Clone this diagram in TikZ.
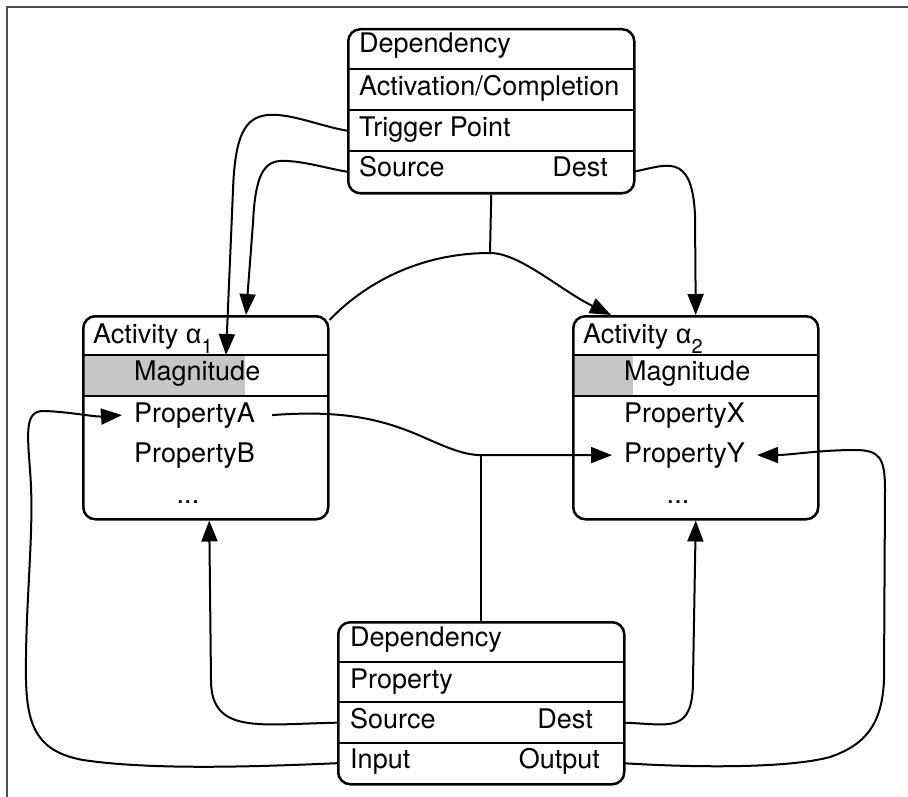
\documentclass[tikz,border=0pt]{standalone}
\usepackage{fontspec}
\setmainfont{TeX Gyre Heros}
\newfontfamily\grk{Liberation Sans}
\usetikzlibrary{arrows.meta}
\definecolor{magfill}{RGB}{198,198,198}

\begin{document}
\begin{tikzpicture}[x=1pt,y=-1pt,
  box/.style={draw, line width=2.5pt, rounded corners=12pt, inner sep=0pt, anchor=north west},
  rowarea/.style={inner sep=0pt, anchor=north west},
  sep/.style={line width=2.5pt},
  lbl/.style={anchor=base west, inner xsep=0pt, inner ysep=0pt, font=\fontsize{27}{32}\selectfont},
  lble/.style={lbl, anchor=base east},
  plbl/.style={lbl, inner xsep=12pt},
  conn/.style={line width=2pt},
  arr/.style={conn, -{Triangle[length=21pt,width=16pt]}},
  frame/.style={line width=1.5pt, black!70}
]
\useasboundingbox (0,0) rectangle (908,797);
\draw[frame] (7,797) -- (7,7) -- (908,7);

% ---------- upper dependency box ----------
\node[box, minimum width=286pt, minimum height=164pt] (top) at (347,28) {};
\node[rowarea, minimum width=286pt, minimum height=41pt] (tact)  at (347,69) {};
\node[rowarea, minimum width=286pt, minimum height=41pt] (ttrig) at (347,110) {};
\node[rowarea, minimum width=286pt, minimum height=41pt] (tsrc)  at (347,151) {};
\foreach \r in {tact,ttrig,tsrc} \draw[sep] (\r.north west) -- (\r.north east);
\node[lbl] (tl1) at (359,53)  {Dependency};
\node[lbl] (tl2) at (359,96)  {Activation/Completion};
\node[lbl] (tl3) at (359,137) {Trigger Point};
\node[lbl] (tl4) at (359,177) {Source};
\node[lble] (tl5) at (608,177) {Dest};

% ---------- activity 1 ----------
\fill[magfill] (82,355) rectangle (245,396);
\node[box, minimum width=245pt, minimum height=203pt] (a1) at (82,315) {};
\node[rowarea, minimum width=245pt, minimum height=41pt] (a1mag)  at (82,355) {};
\node[rowarea, minimum width=245pt, minimum height=122pt] (a1prop) at (82,396) {};
\foreach \r in {a1mag,a1prop} \draw[sep] (\r.north west) -- (\r.north east);
\node[lbl] (a1t) at (93,343) {Activity {\grk α}\raisebox{-10pt}{\fontsize{20}{20}\selectfont 1}};
\node[lbl] (a1m) at (134,380) {Magnitude};
\node[plbl] (pa) at (122,422) {PropertyA};
\node[lbl] (pb) at (134,462) {PropertyB};
\node[lbl, anchor=base] (a1d) at (188,503) {...};

% ---------- activity 2 ----------
\fill[magfill] (572,355) rectangle (633,396);
\node[box, minimum width=245pt, minimum height=203pt] (a2) at (572,315) {};
\node[rowarea, minimum width=245pt, minimum height=41pt] (a2mag)  at (572,355) {};
\node[rowarea, minimum width=245pt, minimum height=122pt] (a2prop) at (572,396) {};
\foreach \r in {a2mag,a2prop} \draw[sep] (\r.north west) -- (\r.north east);
\node[lbl] (a2t) at (583,343) {Activity {\grk α}\raisebox{-10pt}{\fontsize{20}{20}\selectfont 2}};
\node[lbl] (a2m) at (624,380) {Magnitude};
\node[lbl] (px) at (624,422) {PropertyX};
\node[plbl] (py) at (612,462) {PropertyY};
\node[lbl, anchor=base] (a2d) at (678,503) {...};

% ---------- lower dependency box ----------
\node[box, minimum width=286pt, minimum height=162pt] (bot) at (337,621) {};
\node[rowarea, minimum width=286pt, minimum height=40pt] (bprop) at (337,662) {};
\node[rowarea, minimum width=286pt, minimum height=41pt] (bsrc)  at (337,702) {};
\node[rowarea, minimum width=286pt, minimum height=40pt] (bin)   at (337,743) {};
\foreach \r in {bprop,bsrc,bin} \draw[sep] (\r.north west) -- (\r.north east);
\node[lbl] (bl1) at (350,646) {Dependency};
\node[lbl] (bl2) at (350,688) {Property};
\node[lbl] (bl3) at (350,728) {Source};
\node[lble] (bl4) at (593,728) {Dest};
\node[lbl] (bl5) at (350,768) {Input};
\node[lble] (bl6) at (600,768) {Output};

% ---------- connectors of the upper dependency ----------
\draw[arr] (ttrig.west) .. controls (320,126) and (290,113) .. (268,115)
  .. controls (245,117) and (235,135) .. (233,190)
  -- ([xshift=144pt]a1mag.north west);
\draw[arr] (tsrc.west) .. controls (325,168) and (300,160) .. (280,161)
  .. controls (262,162) and (255,180) .. (253,223)
  -- ([xshift=164pt]a1.north west);
\draw[arr] (tsrc.east) .. controls (665,166) and (692,150) .. (695,215)
  -- (a2.north);
\coordinate (j1) at (490,253);
\draw[conn] (top.south) -- (j1);
\draw[arr] ([yshift=-5pt]a1.north east) .. controls (365,283) and (420,253) .. (j1)
  .. controls (520,253) and (560,290) .. ([xshift=39pt]a2.north west);

% ---------- connectors of the lower dependency ----------
\coordinate (j2) at (py.west -| bot.north);
\draw[conn] (bot.north) -- (j2);
\draw[arr] ([xshift=5pt]pa.east) .. controls (340,410) and (380,418) .. (423,437)
  .. controls (450,449) and (465,455) .. (j2) -- (py.west);
\draw[arr] (bsrc.east) .. controls (670,724) and (693,735) .. (693,680)
  -- (a2.south);
\draw[arr] (bsrc.west) .. controls (260,724) and (211,735) .. (211,680)
  -- ([xshift=3.5pt]a1.south);
\draw[arr] (bin.west) .. controls (250,767) and (150,770) .. (83,760)
  .. controls (40,752) and (27,730) .. (26,680)
  .. controls (25,600) and (35,530) .. (30,470)
  .. controls (27,430) and (25,410) .. (45,411)
  .. controls (70,412) and (95,417) .. (pa.west);
\draw[arr] (bin.east) .. controls (700,768) and (790,768) .. (830,757)
  .. controls (865,745) and (882,725) .. (884,680)
  -- (885,490) .. controls (885,458) and (880,450) .. (855,450)
  .. controls (820,450) and (790,455) .. (py.east);
\end{tikzpicture}
\end{document}
